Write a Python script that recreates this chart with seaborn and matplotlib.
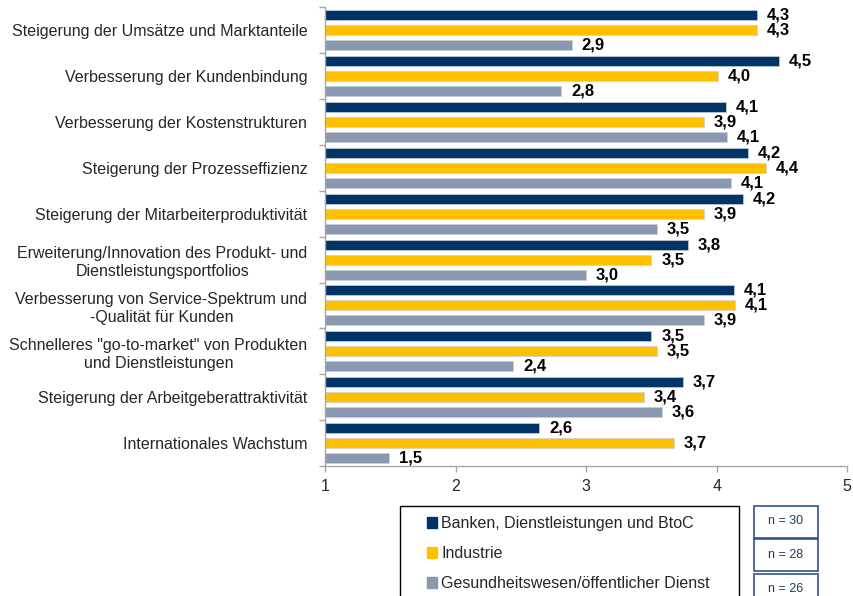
import pandas as pd
import matplotlib
matplotlib.use("Agg")
import matplotlib.pyplot as plt
from matplotlib.patches import Rectangle
import seaborn as sns

categories = [
    "Steigerung der Umsätze und Marktanteile",
    "Verbesserung der Kundenbindung",
    "Verbesserung der Kostenstrukturen",
    "Steigerung der Prozesseffizienz",
    "Steigerung der Mitarbeiterproduktivität",
    "Erweiterung/Innovation des Produkt- und\nDienstleistungsportfolios",
    "Verbesserung von Service-Spektrum und\n-Qualität für Kunden",
    'Schnelleres "go-to-market" von Produkten\nund Dienstleistungen',
    "Steigerung der Arbeitgeberattraktivität",
    "Internationales Wachstum",
]
series = ["Banken, Dienstleistungen und BtoC", "Industrie",
          "Gesundheitswesen/öffentlicher Dienst"]
banken = [4.31, 4.48, 4.07, 4.24, 4.20, 3.78, 4.13, 3.50, 3.74, 2.64]
industrie = [4.31, 4.01, 3.90, 4.38, 3.90, 3.50, 4.14, 3.54, 3.44, 3.67]
gesundheit = [2.89, 2.81, 4.08, 4.11, 3.54, 3.00, 3.90, 2.44, 3.58, 1.49]
n_counts = [30, 28, 26]
colors = ["#003366", "#FFC000", "#8A98AF"]

df = pd.DataFrame({
    "Kategorie": categories * 3,
    "Wert": banken + industrie + gesundheit,
    "Gruppe": [s for s in series for _ in categories],
})

sns.set_style("white")
plt.rcParams["font.family"] = ["Liberation Sans", "DejaVu Sans"]

fig = plt.figure(figsize=(8.54, 5.96), dpi=100)
ax = fig.add_axes([0.381, 0.218, 0.611, 0.770])

sns.barplot(data=df, y="Kategorie", x="Wert", hue="Gruppe", orient="h",
            palette=colors, width=0.98, gap=0.33, ax=ax, legend=False,
            edgecolor="#c8d0da", linewidth=0.5, saturation=1)

for cont, vals in zip(ax.containers, [banken, industrie, gesundheit]):
    ax.bar_label(cont, labels=[f"{v:.1f}".replace(".", ",") for v in vals],
                 padding=7, fontweight="bold", fontsize=12, color="black")

ax.set_xlim(1, 5)
ax.set_ylim(9.5, -0.5)
ax.set_xticks([1, 2, 3, 4, 5])
ax.set_xlabel("")
ax.set_ylabel("")
ax.set_yticks(range(len(categories)))
ax.set_yticklabels(categories, multialignment="center", linespacing=1.25)
ax.set_yticks([i - 0.5 for i in range(len(categories) + 1)], minor=True)
ax.tick_params(axis="y", which="major", length=0, pad=13, labelsize=11.5)
ax.tick_params(axis="y", which="minor", length=4, color="#a6a6a6", width=1, left=True)
ax.tick_params(axis="x", length=4.5, color="#a6a6a6", width=1, pad=5,
               labelsize=11.5, bottom=True)
for side in ["top", "right"]:
    ax.spines[side].set_visible(False)
for side in ["left", "bottom"]:
    ax.spines[side].set_color("#a6a6a6")
    ax.spines[side].set_linewidth(1)

# legend box
fig.patches.append(Rectangle((400 / 854, -0.02), 339 / 854, 0.171,
                             transform=fig.transFigure, fill=False,
                             edgecolor="black", linewidth=1))
handles = [Rectangle((0, 0), 1, 1, color=c) for c in colors]
fig.legend(handles, series, loc="upper left",
           bbox_to_anchor=(427 / 854, (596 - 516) / 596), frameon=False,
           borderaxespad=0, borderpad=0, handlelength=0.65, handleheight=0.65,
           handletextpad=0.25, labelspacing=0.95, fontsize=11.5)

# n boxes
box_tops = [505.5, 539.0, 573.5]
for top, n in zip(box_tops, n_counts):
    fig.patches.append(Rectangle((754 / 854, 1 - (top + 32) / 596), 64 / 854, 32 / 596,
                                 transform=fig.transFigure, fill=False,
                                 edgecolor="#2f5487", linewidth=1.2))
    fig.text(786 / 854, 1 - (top + 16) / 596, f"n = {n}", ha="center", va="center",
             fontsize=9, color="#1f3a60")

fig.savefig("out.png", dpi=100)
